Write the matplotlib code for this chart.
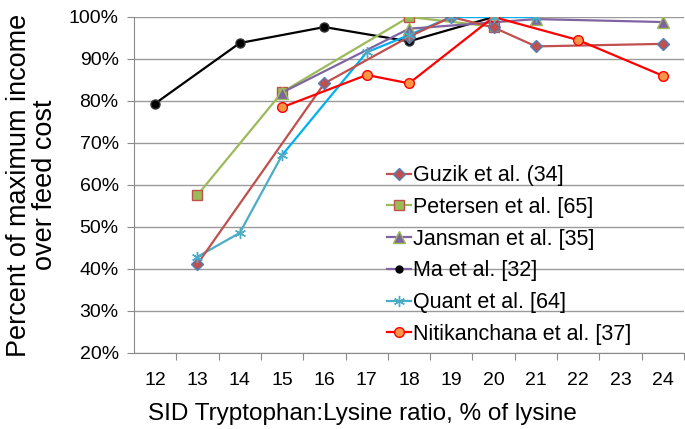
import matplotlib
matplotlib.use("Agg")
import matplotlib.pyplot as plt
from matplotlib.lines import Line2D

plt.rcParams['font.family'] = ['Liberation Sans', 'DejaVu Sans']

# ratio (% of lysine) and percent of max income over feed cost
guzik_x = [13, 16, 18, 19, 20, 21, 24]
guzik_y = [41.2, 84.2, 95.3, 100, 97.5, 93.0, 93.6]
petersen_x = [13, 15, 18, 20]
petersen_y = [57.6, 82.1, 100, 97.7]
jansman_x = [15, 18, 21, 24]
jansman_y = [82.0, 97.2, 99.5, 98.8]
ma_x = [12, 14, 16, 18, 20]
ma_y = [79.4, 93.8, 97.6, 94.2, 100]
quant_x = [13, 14, 15, 17, 18, 19, 20, 21]
quant_y = [42.9, 48.6, 67.1, 91.6, 95.7, 100, 100, 100]
nitik_x = [15, 17, 18, 20, 22, 24]
nitik_y = [78.5, 86.2, 84.2, 100, 94.5, 86.0]

labels = ['Guzik et al. (34]', 'Petersen et al. [65]', 'Jansman et al. [35]',
          'Ma et al. [32]', 'Quant et al. [64]', 'Nitikanchana et al. [37]']
cats = list(range(12, 25))

fig = plt.figure(figsize=(6.85, 4.29), dpi=100)
ax = fig.add_axes([0.1956, 0.1772, 0.803, 0.7832])

lw = 1.6
ax.plot(ma_x, ma_y, color='black', lw=lw, marker='o', ms=6.5,
        mfc='black', mec='#333333', zorder=3)
ax.plot(quant_x[:3], quant_y[:3], color='#4BACC6', lw=lw, zorder=3)
ax.plot(quant_x[2:], quant_y[2:], color='#00B0F0', lw=lw, zorder=3)
ax.plot(quant_x, quant_y, ls='none', marker=(6, 2, 0), ms=8,
        mec='#4BACC6', mew=1.0, zorder=4)
ax.plot(petersen_x, petersen_y, color='#9BBB59', lw=lw, marker='s', ms=6.5,
        mfc='#9BBB59', mec='#C0504D', zorder=3)
ax.plot(jansman_x, jansman_y, color='#8064A2', lw=lw, marker='^', ms=8,
        mfc='#8064A2', mec='#9BBB59', zorder=3)
ax.plot(guzik_x, guzik_y, color='#C0504D', lw=lw, marker='D', ms=6.5,
        mfc='#C0504D', mec='#4F81BD', zorder=3)
ax.plot(nitik_x, nitik_y, color='#FF0000', lw=lw, marker='o', ms=7,
        mfc='#F79646', mec='#FF0000', zorder=3)

handles = [
    Line2D([], [], color='#C0504D', lw=lw, marker='D', ms=6.5, mfc='#C0504D', mec='#4F81BD'),
    Line2D([], [], color='#9BBB59', lw=lw, marker='s', ms=6.5, mfc='#9BBB59', mec='#C0504D'),
    Line2D([], [], color='#8064A2', lw=lw, marker='^', ms=8, mfc='#8064A2', mec='#9BBB59'),
    Line2D([], [], color='#8064A2', lw=lw, marker='o', ms=5, mfc='black', mec='black'),
    Line2D([], [], color='#4BACC6', lw=lw, marker=(6, 2, 0), ms=8, mec='#4BACC6'),
    Line2D([], [], color='#FF0000', lw=lw, marker='o', ms=7, mfc='#F79646', mec='#FF0000'),
]
ax.legend(handles, labels, loc='upper left', bbox_to_anchor=(0.445, 0.585),
          frameon=False, fontsize=15.5, handlelength=1.1, handletextpad=0.1,
          labelspacing=0.5, borderaxespad=0)

ax.set_xlim(11.5, 24.5)
ax.set_ylim(20, 100)
ax.set_yticks(range(20, 101, 10))
ax.set_yticklabels([f'{v}%' for v in range(20, 101, 10)], fontsize=14)
ax.yaxis.grid(True, color='#9A9A9A', lw=1.0)
ax.set_axisbelow(True)

ax.set_xticks([c + 0.5 for c in cats])
ax.set_xticklabels([])
ax.set_xticks(cats, minor=True)
ax.set_xticklabels([str(c) for c in cats], minor=True, fontsize=14)
ax.tick_params(axis='x', which='minor', length=0, pad=14)
ax.tick_params(axis='x', which='major', length=5, color='#8A8A8A', direction='out')
ax.tick_params(axis='y', length=5, color='#8A8A8A', direction='out', pad=6)

for s in ['top', 'right']:
    ax.spines[s].set_visible(False)
for s in ['left', 'bottom']:
    ax.spines[s].set_color('#8A8A8A')

ax.set_xlabel('SID Tryptophan:Lysine ratio, % of lysine', fontsize=17.5)
ax.xaxis.set_label_coords(0.416, -0.15)
ax.set_ylabel('Percent of maximum income\nover feed cost', fontsize=19.5,
              labelpad=8, linespacing=1.0)

fig.savefig('out.png', dpi=100)
